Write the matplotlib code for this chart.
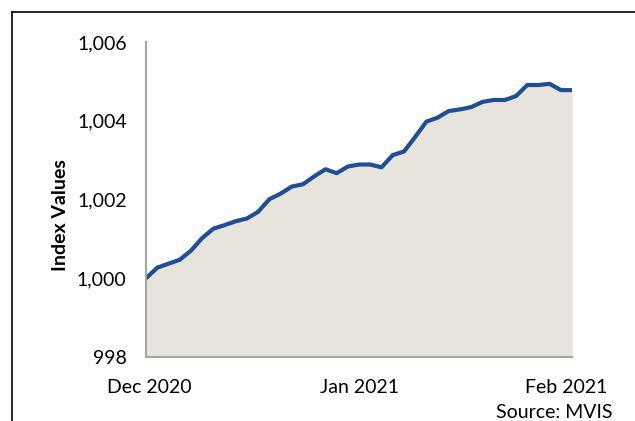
import matplotlib.pyplot as plt
from matplotlib.lines import Line2D
from matplotlib.ticker import FuncFormatter
from matplotlib.transforms import ScaledTranslation

# Daily index values, Dec 2020 - Feb 2021
index_values = [
    1000.00, 1000.27, 1000.37, 1000.47, 1000.70, 1001.02, 1001.26, 1001.35,
    1001.45, 1001.52, 1001.69, 1002.01, 1002.15, 1002.33, 1002.39, 1002.59,
    1002.77, 1002.67, 1002.84, 1002.89, 1002.89, 1002.82, 1003.13, 1003.22,
    1003.59, 1003.98, 1004.08, 1004.25, 1004.29, 1004.35, 1004.48, 1004.53,
    1004.53, 1004.63, 1004.91, 1004.91, 1004.94, 1004.78, 1004.78,
]
x_labels = ["Dec 2020", "Jan 2021", "Feb 2021"]
x_label_pos = [0, 19, 38]
y_ticks = [998, 1000, 1002, 1004, 1006]

plt.rcParams["font.family"] = ["Lato", "DejaVu Sans"]

fig = plt.figure(figsize=(6.35, 4.21), dpi=100)
ax = fig.add_axes([0.230, 0.152, 0.671, 0.748])

x = list(range(len(index_values)))
ax.fill_between(x, index_values, 998, color="#e7e3dd", linewidth=0)
ax.plot(x, index_values, color="#1f4e96", linewidth=3, solid_joinstyle="round")

ax.set_xlim(0, len(index_values) - 1)
ax.set_ylim(998, 1006)
ax.set_yticks(y_ticks)
ax.yaxis.set_major_formatter(FuncFormatter(lambda v, p: f"{v:,.0f}"))
ax.set_xticks(x_label_pos)
ax.set_xticklabels(x_labels)
ax.tick_params(axis="y", length=0, pad=14, labelsize=14)
ax.tick_params(axis="x", length=0, pad=16, labelsize=14)

# nudge first/last date labels inward a little, like the original
labels = ax.get_xticklabels()
labels[0].set_transform(labels[0].get_transform() + ScaledTranslation(0.03, 0, fig.dpi_scale_trans))
labels[-1].set_transform(labels[-1].get_transform() + ScaledTranslation(-0.06, 0, fig.dpi_scale_trans))

for side in ["top", "right"]:
    ax.spines[side].set_visible(False)
for side in ["left", "bottom"]:
    ax.spines[side].set_color("#a6a6a6")
    ax.spines[side].set_linewidth(1.5)

ax.set_ylabel("Index Values", fontsize=14, fontweight="bold", labelpad=5.5, y=0.45)

fig.text(0.964, 0.0, "Source: MVIS", ha="right", va="bottom", fontsize=14)

# Outer frame (top and left visible)
fx = 12 / 635
fy = 1 - 12 / 421
fig.add_artist(Line2D([fx, 1], [fy, fy], color="black", linewidth=1.2))
fig.add_artist(Line2D([fx, fx], [0, fy], color="black", linewidth=1.2))

plt.savefig("out.png", dpi=100)
